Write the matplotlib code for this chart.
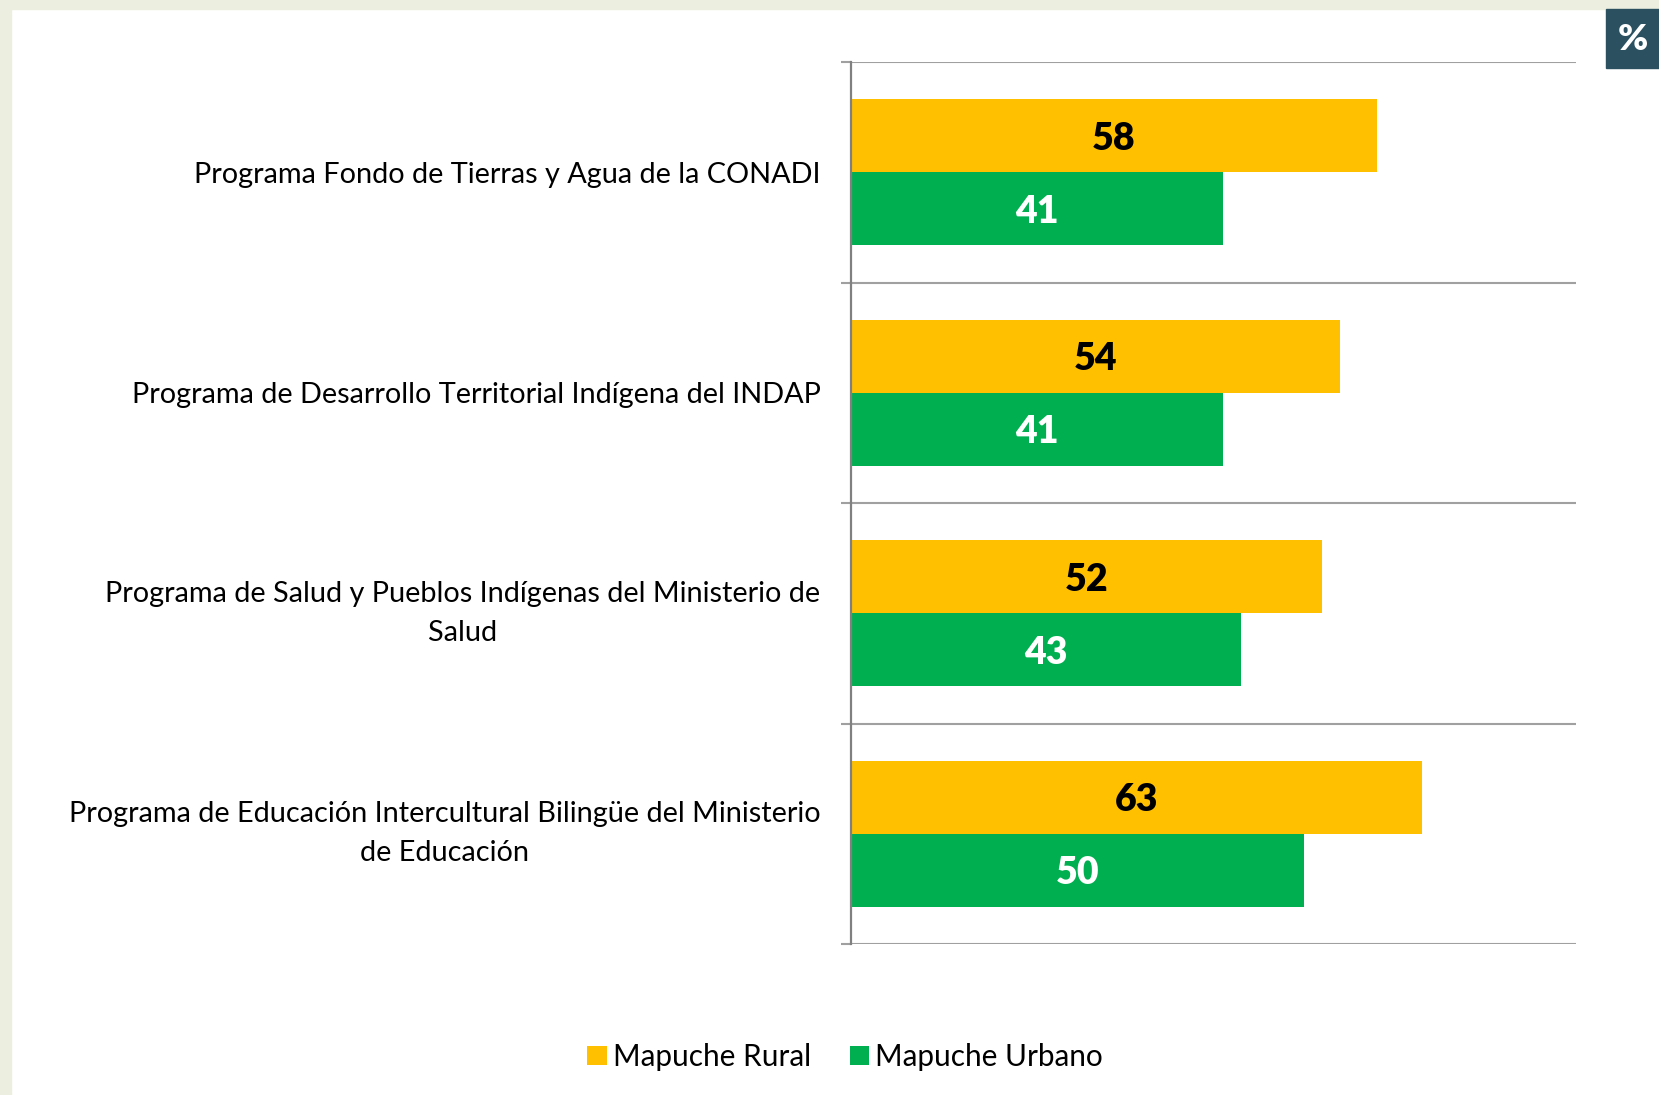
import matplotlib
matplotlib.use("Agg")
import matplotlib.pyplot as plt
import numpy as np
from matplotlib.patches import Rectangle
from matplotlib.ticker import FixedLocator

categories = [
    "Programa Fondo de Tierras y Agua de la CONADI",
    "Programa de Desarrollo Territorial Indígena del INDAP",
    "Programa de Salud y Pueblos Indígenas del Ministerio de\nSalud",
    "Programa de Educación Intercultural Bilingüe del Ministerio\nde Educación",
]
rural = [58, 54, 52, 63]
urbano = [41, 41, 43, 50]
series_names = ["Mapuche Rural", "Mapuche Urbano"]

c_rural = "#FFC000"
c_urb = "#00B050"

plt.rcParams['font.family'] = ['Lato', 'DejaVu Sans']

fig = plt.figure(figsize=(16.59, 10.95), dpi=100)
# background border strips
fig.patches.append(Rectangle((0, 1 - 9/1095), 1, 9/1095, transform=fig.transFigure,
                             color="#ECEEE0", zorder=0))
fig.patches.append(Rectangle((0, 0), 11/1659, 1, transform=fig.transFigure,
                             color="#ECEEE0", zorder=0))
# % box
fig.patches.append(Rectangle((1606/1659, 1 - 68/1095), 53/1659, 59/1095,
                             transform=fig.transFigure, color="#2B5161", zorder=1))
fig.text((1606 + 1659) / 2 / 1659, 1 - 39/1095, "%", color="white", fontsize=26,
         fontweight="heavy", ha="center", va="center")

ax = fig.add_axes([851/1659, 1 - 944/1095, (1576 - 851)/1659, (944 - 62)/1095])

n = len(categories)
y = np.arange(n)
h = 0.33
b1 = ax.barh(y - h/2, rural, height=h, color=c_rural, label=series_names[0], zorder=2)
b2 = ax.barh(y + h/2, urbano, height=h, color=c_urb, label=series_names[1], zorder=2)

for rect, v in zip(b1, rural):
    ax.text(v / 2, rect.get_y() + rect.get_height()/2, f"{v}", ha="center",
            va="center_baseline", fontsize=27, fontweight="heavy", color="black", zorder=3)
for rect, v in zip(b2, urbano):
    ax.text(v / 2, rect.get_y() + rect.get_height()/2, f"{v}", ha="center",
            va="center_baseline", fontsize=27, fontweight="heavy", color="white", zorder=3)

ax.set_xlim(0, 80)
ax.set_ylim(n - 0.5, -0.5)

ax.yaxis.set_major_locator(FixedLocator(np.arange(n + 1) - 0.5))
ax.yaxis.set_minor_locator(FixedLocator(y))
ax.set_yticklabels([], minor=False)
ax.set_yticklabels(categories, minor=True, fontsize=20.8)
ax.tick_params(axis="y", which="major", length=7, width=1.5, color="#A0A0A0", direction="out")
ax.tick_params(axis="y", which="minor", length=0, pad=22)
for lab in ax.get_yticklabels(minor=True):
    lab.set_ha("right")
    lab.set_va("center" if "\n" in lab.get_text() else "center_baseline")
    lab.set_multialignment("center")
    lab.set_linespacing(1.6)

ax.xaxis.set_visible(False)
ax.grid(axis="y", which="major", color="#A0A0A0", linewidth=1.5, zorder=1)
for s in ["top", "right", "bottom"]:
    ax.spines[s].set_visible(False)
ax.spines["left"].set_color("#808080")
ax.spines["left"].set_linewidth(1.6)
ax.spines["left"].set_zorder(4)

leg = fig.legend(handles=[b1, b2], labels=series_names, loc="center",
                 bbox_to_anchor=(845/1659, 1 - 1057/1095), ncol=2, frameon=False,
                 fontsize=21.4, handlelength=0.65, handleheight=0.65, handletextpad=0.2,
                 columnspacing=1.3)

fig.savefig("out.png", dpi=100, facecolor="white")
